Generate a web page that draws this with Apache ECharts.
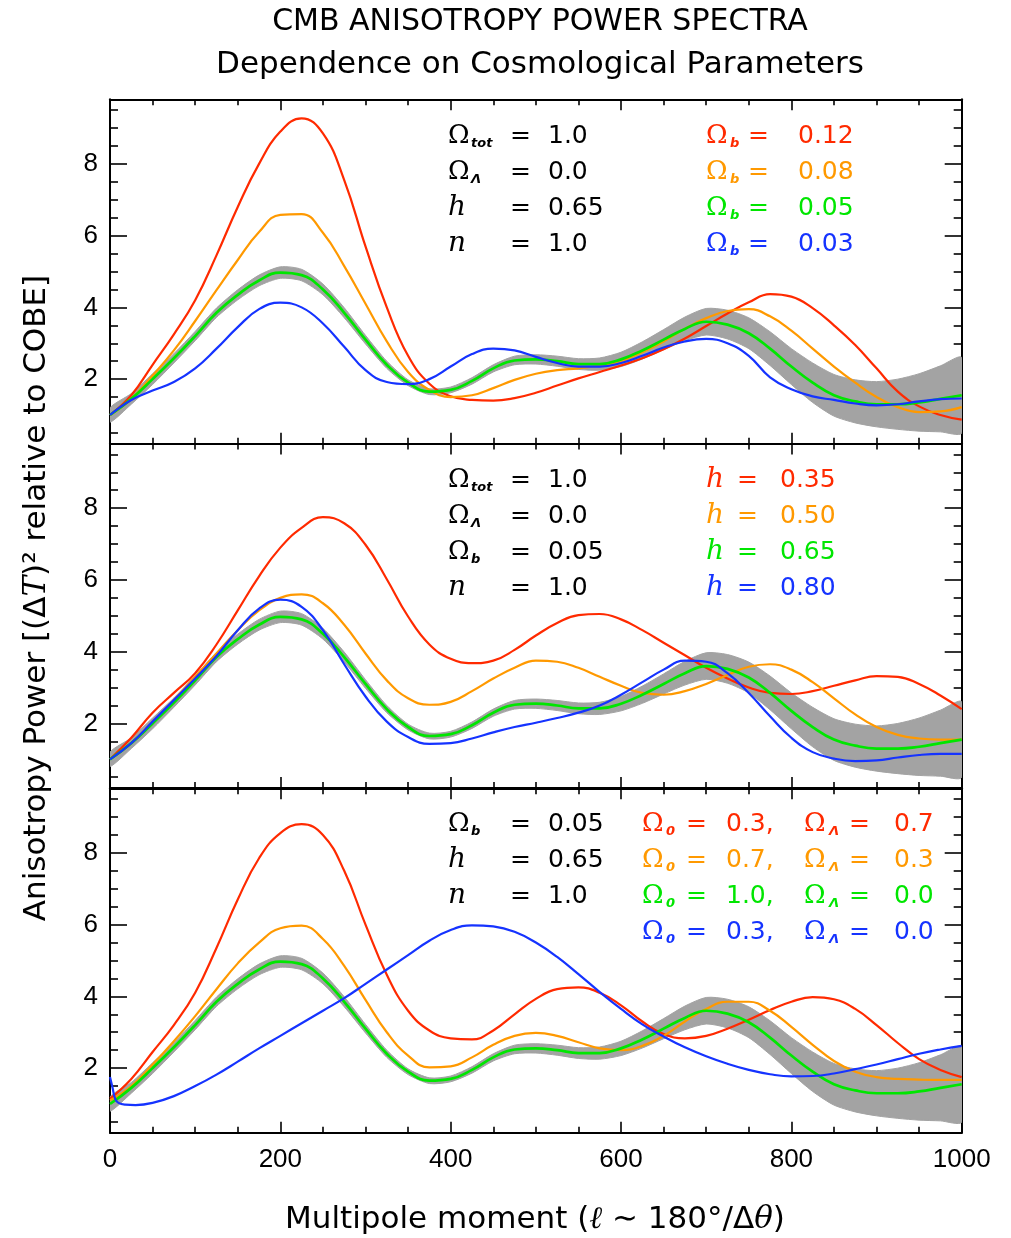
<!DOCTYPE html>
<html>
<head>
<meta charset="utf-8">
<script src="https://cdn.jsdelivr.net/npm/echarts@6/dist/echarts.min.js"></script>
<style>
html,body{margin:0;padding:0;background:#ffffff;}
#chart{width:1011px;height:1238px;}
</style>
</head>
<body>
<div id="chart"></div>
<script>
// ---------------- data ----------------
const ell = [0,25,50,75,100,125,150,175,200,225,250,275,300,325,350,375,400,425,450,475,500,
             525,550,575,600,625,650,675,700,725,750,775,800,825,850,875,900,925,950,975,1000];

// standard model (green, identical in all panels)
const standardModel = [1.0,1.45,2.0,2.58,3.2,3.85,4.35,4.75,4.97,4.9,4.5,3.85,3.1,2.4,1.9,1.65,1.7,1.95,2.3,2.52,2.55,
             2.5,2.42,2.42,2.55,2.8,3.1,3.4,3.6,3.52,3.28,2.85,2.35,1.9,1.55,1.38,1.3,1.3,1.35,1.45,1.55];
// half width of the grey cosmic-variance band around the standard model
const bandHalfWidth = [0.2,0.15,0.15,0.13,0.13,0.13,0.14,0.15,0.16,0.16,0.15,0.14,0.12,0.1,0.08,0.08,0.08,0.09,0.1,0.12,0.13,
             0.14,0.15,0.17,0.2,0.24,0.28,0.33,0.37,0.4,0.43,0.47,0.5,0.55,0.58,0.6,0.63,0.7,0.8,0.92,1.05];

// Panel 1: baryon density
const omegaB012 = [1.0,1.55,2.4,3.25,4.2,5.45,6.8,8.0,8.9,9.27,8.85,7.55,5.7,4.0,2.65,1.87,1.52,1.42,1.4,1.47,1.62,
             1.82,2.02,2.2,2.38,2.58,2.83,3.13,3.48,3.83,4.14,4.37,4.3,3.98,3.5,2.95,2.3,1.65,1.24,1.0,0.87];
const omegaB008 = [1.0,1.45,2.1,2.8,3.62,4.48,5.32,6.1,6.58,6.6,6.08,5.15,4.1,3.05,2.2,1.7,1.5,1.55,1.75,1.98,2.15,
             2.25,2.3,2.38,2.5,2.75,3.05,3.4,3.7,3.9,3.95,3.75,3.35,2.85,2.35,1.9,1.5,1.22,1.08,1.1,1.22];
const omegaB003 = [1.0,1.42,1.68,1.92,2.3,2.85,3.45,3.95,4.13,4.0,3.55,2.9,2.25,1.92,1.86,2.0,2.35,2.7,2.85,2.8,2.62,
             2.45,2.35,2.35,2.45,2.65,2.88,3.05,3.12,3.0,2.65,2.05,1.72,1.52,1.42,1.32,1.27,1.3,1.38,1.44,1.46];

// Panel 2: Hubble constant
const hubble035 = [1.0,1.6,2.3,2.85,3.4,4.2,5.15,6.1,6.9,7.45,7.75,7.58,6.98,6.02,4.98,4.2,3.8,3.68,3.75,4.05,4.45,
             4.8,5.02,5.05,4.9,4.6,4.25,3.9,3.55,3.25,3.0,2.85,2.82,2.9,3.05,3.2,3.32,3.3,3.1,2.78,2.4];
const hubble050 = [1.0,1.45,2.05,2.65,3.3,3.95,4.6,5.15,5.5,5.6,5.35,4.75,3.95,3.2,2.7,2.52,2.6,2.9,3.25,3.55,3.75,
             3.72,3.55,3.3,3.05,2.85,2.8,2.9,3.1,3.35,3.58,3.65,3.5,3.15,2.7,2.25,1.9,1.68,1.58,1.55,1.55];
const hubble080 = [1.0,1.45,2.05,2.65,3.25,3.88,4.6,5.2,5.45,5.25,4.6,3.65,2.75,2.05,1.62,1.43,1.45,1.58,1.75,1.9,2.02,
             2.15,2.3,2.5,2.8,3.15,3.5,3.75,3.72,3.4,2.85,2.2,1.6,1.2,1.02,0.95,0.97,1.05,1.12,1.15,1.15];

// Panel 3: geometry / cosmological constant
const lambda07 = [1.15,1.7,2.45,3.2,4.1,5.35,6.7,7.85,8.55,8.8,8.5,7.5,6.0,4.6,3.6,3.05,2.83,2.8,3.05,3.5,3.93,
             4.2,4.25,4.1,3.75,3.3,2.95,2.83,2.9,3.1,3.35,3.62,3.85,3.98,3.92,3.65,3.2,2.7,2.25,1.95,1.75];
const lambda03 = [1.1,1.5,2.1,2.75,3.45,4.2,4.92,5.5,5.9,5.97,5.6,4.85,3.9,3.0,2.35,2.02,2.05,2.3,2.65,2.9,2.98,
             2.9,2.72,2.55,2.5,2.62,2.9,3.3,3.65,3.85,3.85,3.6,3.15,2.65,2.2,1.9,1.75,1.7,1.68,1.67,1.67];
const openEll = [0,3,6,10,18,30,50,75,100,125,150,175,200,225,250,275,300,325,350,375,400,425,450,475,500,
             525,550,575,600,625,650,675,700,725,750,775,800,825,850,875,900,925,950,975,1000];
const openModel = [1.75,1.45,1.15,1.03,0.98,0.97,1.03,1.22,1.5,1.82,2.18,2.55,2.9,3.25,3.6,3.95,4.35,4.75,5.15,5.55,5.85,5.98,5.95,5.8,5.5,
             5.1,4.62,4.12,3.65,3.22,2.88,2.58,2.33,2.12,1.95,1.83,1.77,1.78,1.85,1.97,2.1,2.25,2.4,2.52,2.62];

// tick values / labels
const xTickInterval = 200;
const yMajorTicks = [2,4,6,8];
const yMinorTicks = [0.5,1,1.5,2.5,3,3.5,4.5,5,5.5,6.5,7,7.5,8.5,9,9.5];

// annotation texts
const fixedRows1 = [['Ω','tot','1.0'],['Ω','Λ','0.0'],['h','','0.65'],['n','','1.0']];
const varyRows1  = [['Ω','b','0.12'],['Ω','b','0.08'],['Ω','b','0.05'],['Ω','b','0.03']];
const fixedRows2 = [['Ω','tot','1.0'],['Ω','Λ','0.0'],['Ω','b','0.05'],['n','','1.0']];
const varyRows2  = [['h','','0.35'],['h','','0.50'],['h','','0.65'],['h','','0.80']];
const fixedRows3 = [['Ω','b','0.05'],['h','','0.65'],['n','','1.0']];
const varyRows3  = [['0.3','0.7'],['0.7','0.3'],['1.0','0.0'],['0.3','0.0']];

const titleLines = ['CMB ANISOTROPY POWER SPECTRA','Dependence on Cosmological Parameters'];

// ---------------- styling / layout ----------------
const RED = '#ff2a00', ORANGE = '#ff9900', GREEN = '#00e600', BLUE = '#1533ff';
const rowColors = [RED, ORANGE, GREEN, BLUE];
const GREY = '#a3a3a3';
const panelTops = [99.3, 443.6, 788.3];
const panelH = 344.4;
const plotLeft = 110, plotRight = 961.7;
const Y_MIN = 0.2, Y_MAX = 9.8;

const chart = echarts.init(document.getElementById('chart'), null, {renderer: 'canvas'});

const grids = [], xAxes = [], yAxes = [], series = [];

function xAxisCfg(gi, pos, labels) {
  return {
    type: 'value', gridIndex: gi, position: pos, min: 0, max: 1000, interval: xTickInterval,
    axisLine: {show: true, onZero: false, lineStyle: {color: '#000', width: 2}},
    axisTick: {show: true, inside: true, length: 11, lineStyle: {color: '#000', width: 1.6}},
    minorTick: {show: true, splitNumber: 4, length: 6, lineStyle: {color: '#000', width: 1.6}},
    axisLabel: {show: labels, color: '#000', fontSize: 26, fontFamily: 'Liberation Sans', margin: 14,
                formatter: function (v) { return String(v); }},
    splitLine: {show: false}, minorSplitLine: {show: false}
  };
}
function yAxisCfg(gi, pos, major) {
  return {
    type: 'value', gridIndex: gi, position: pos, min: Y_MIN, max: Y_MAX,
    axisLine: {show: major, onZero: false, lineStyle: {color: '#000', width: 2}},
    axisTick: {show: true, inside: true, length: major ? 17 : 8,
               customValues: major ? yMajorTicks : yMinorTicks,
               lineStyle: {color: '#000', width: 1.6}},
    axisLabel: {show: major && pos === 'left', customValues: yMajorTicks, color: '#000',
                fontSize: 26, fontFamily: 'Liberation Sans', margin: 12,
                formatter: function (v) { return String(v); }},
    splitLine: {show: false}
  };
}
function lineSeries(gi, xs, ys, color, width) {
  return {
    type: 'line', xAxisIndex: gi * 2, yAxisIndex: gi * 4,
    data: xs.map((x, i) => [x, ys[i]]),
    smooth: 0.45, showSymbol: false, symbol: 'none', clip: true, silent: true,
    lineStyle: {color: color, width: width}, itemStyle: {color: color}, z: 3
  };
}
function bandSeries(gi) {
  return {
    type: 'custom', xAxisIndex: gi * 2, yAxisIndex: gi * 4, clip: true, silent: true, z: 2,
    data: ell.map((l, i) => [l, standardModel[i] - bandHalfWidth[i], standardModel[i] + bandHalfWidth[i]]),
    renderItem: function (params, api) {
      if (params.dataIndex !== 0) return null;
      const up = [], lo = [];
      for (let i = 0; i < ell.length; i++) {
        up.push(api.coord([ell[i], standardModel[i] + bandHalfWidth[i]]));
        lo.push(api.coord([ell[i], standardModel[i] - bandHalfWidth[i]]));
      }
      return {
        type: 'polygon',
        shape: {points: up.concat(lo.reverse()), smooth: 0.25},
        style: {fill: GREY, stroke: GREY, lineWidth: 1}
      };
    }
  };
}

for (let gi = 0; gi < 3; gi++) {
  grids.push({left: plotLeft, width: plotRight - plotLeft, top: panelTops[gi], height: panelH,
              outerBoundsMode: 'none', containLabel: false});
  xAxes.push(xAxisCfg(gi, 'bottom', gi === 2));
  xAxes.push(xAxisCfg(gi, 'top', false));
  yAxes.push(yAxisCfg(gi, 'left', true));
  yAxes.push(yAxisCfg(gi, 'left', false));
  yAxes.push(yAxisCfg(gi, 'right', true));
  yAxes.push(yAxisCfg(gi, 'right', false));
  series.push(bandSeries(gi));
}
// panel 1
series.push(lineSeries(0, ell, omegaB012, RED, 2.2));
series.push(lineSeries(0, ell, omegaB008, ORANGE, 2.2));
series.push(lineSeries(0, ell, standardModel, GREEN, 2.7));
series.push(lineSeries(0, ell, omegaB003, BLUE, 2.2));
// panel 2
series.push(lineSeries(1, ell, hubble035, RED, 2.2));
series.push(lineSeries(1, ell, hubble050, ORANGE, 2.2));
series.push(lineSeries(1, ell, standardModel, GREEN, 2.7));
series.push(lineSeries(1, ell, hubble080, BLUE, 2.2));
// panel 3
series.push(lineSeries(2, ell, lambda07, RED, 2.2));
series.push(lineSeries(2, ell, lambda03, ORANGE, 2.2));
series.push(lineSeries(2, ell, standardModel, GREEN, 2.7));
series.push(lineSeries(2, openEll, openModel, BLUE, 2.2));

// ---------------- annotations ----------------
const graphics = [];
const VALUE_FONT = 'DejaVu Sans';
function txt(x, y, text, color, opts) {
  return {type: 'text', x: x, y: y, silent: true, z: 50,
    style: Object.assign({text: text, fill: color, fontFamily: VALUE_FONT, fontSize: 25,
                          align: 'left', verticalAlign: 'middle'}, opts || {})};
}
function symbolText(x, y, sym, color) {
  if (sym === 'Ω') return txt(x, y, sym, color, {fontFamily: 'DejaVu Serif', fontSize: 26});
  return txt(x, y - 1, sym, color, {fontFamily: 'DejaVu Serif', fontSize: 28, fontStyle: 'italic'});
}
function subText(x, y, s, color) {
  return txt(x, y + 7, s, color, {fontSize: 13, fontStyle: 'italic', fontWeight: 'bold'});
}
function addRow(x, y, row, color, L) {
  graphics.push(symbolText(x, y, row[0], color));
  if (row[1]) graphics.push(subText(x + L.sub, y, row[1], color));
  graphics.push(txt(x + L.eq, y, '=', color));
  graphics.push(txt(x + L.val, y, row[2], color));
}
const fixedLayout = {sub: 23, eq: 62, val: 100};
const varyLayoutB = {sub: 24, eq: 42, val: 92};
const varyLayoutH = {sub: 0, eq: 31, val: 74};
fixedRows1.forEach((r, i) => addRow(448, panelTops[0] + 37 + 36 * i, r, '#000', fixedLayout));
varyRows1.forEach((r, i) => addRow(706, panelTops[0] + 37 + 36 * i, r, rowColors[i], varyLayoutB));
fixedRows2.forEach((r, i) => addRow(448, panelTops[1] + 37 + 36 * i, r, '#000', fixedLayout));
varyRows2.forEach((r, i) => addRow(706, panelTops[1] + 37 + 36 * i, r, rowColors[i], varyLayoutH));
fixedRows3.forEach((r, i) => addRow(448, panelTops[2] + 36 + 36 * i, r, '#000', fixedLayout));
varyRows3.forEach((r, i) => {
  const y = panelTops[2] + 36 + 36 * i, c = rowColors[i];
  graphics.push(symbolText(642, y, 'Ω', c));
  graphics.push(subText(666, y, '0', c));
  graphics.push(txt(686, y, '=', c));
  graphics.push(txt(726, y, r[0] + ',', c));
  graphics.push(symbolText(804, y, 'Ω', c));
  graphics.push(subText(829, y, 'Λ', c));
  graphics.push(txt(849, y, '=', c));
  graphics.push(txt(894, y, r[1], c));
});

// axis titles
graphics.push({
  type: 'text', x: 37, y: 598, rotation: Math.PI / 2, silent: true, z: 50,
  style: {
    text: '{n|Anisotropy Power [(Δ}{i|T}{n|)² relative to COBE]}',
    align: 'center', verticalAlign: 'middle',
    rich: {
      n: {fontFamily: 'DejaVu Sans', fontSize: 31, fill: '#000'},
      i: {fontFamily: 'DejaVu Serif', fontSize: 31, fontStyle: 'italic', fill: '#000'}
    }
  }
});
graphics.push({
  type: 'text', x: 535, y: 1220, silent: true, z: 50,
  style: {
    text: '{n|Multipole moment (}{i|ℓ}{n| ∼ 180°/Δ}{i|θ}{n|)}',
    align: 'center', verticalAlign: 'middle',
    rich: {
      n: {fontFamily: 'DejaVu Sans', fontSize: 31, fill: '#000'},
      i: {fontFamily: 'DejaVu Serif', fontSize: 31, fontStyle: 'italic', fill: '#000'}
    }
  }
});

const option = {
  animation: false,
  backgroundColor: '#ffffff',
  title: [
    {text: titleLines[0], left: 535, top: 2, textAlign: 'center',
     textStyle: {fontFamily: 'DejaVu Sans', fontSize: 30, fontWeight: 'normal', color: '#000'}},
    {text: titleLines[1], left: 535, top: 44, textAlign: 'center',
     textStyle: {fontFamily: 'DejaVu Sans', fontSize: 31, fontWeight: 'normal', color: '#000'}}
  ],
  grid: grids,
  xAxis: xAxes,
  yAxis: yAxes,
  series: series,
  graphic: graphics
};
chart.setOption(option);
</script>
</body>
</html>
